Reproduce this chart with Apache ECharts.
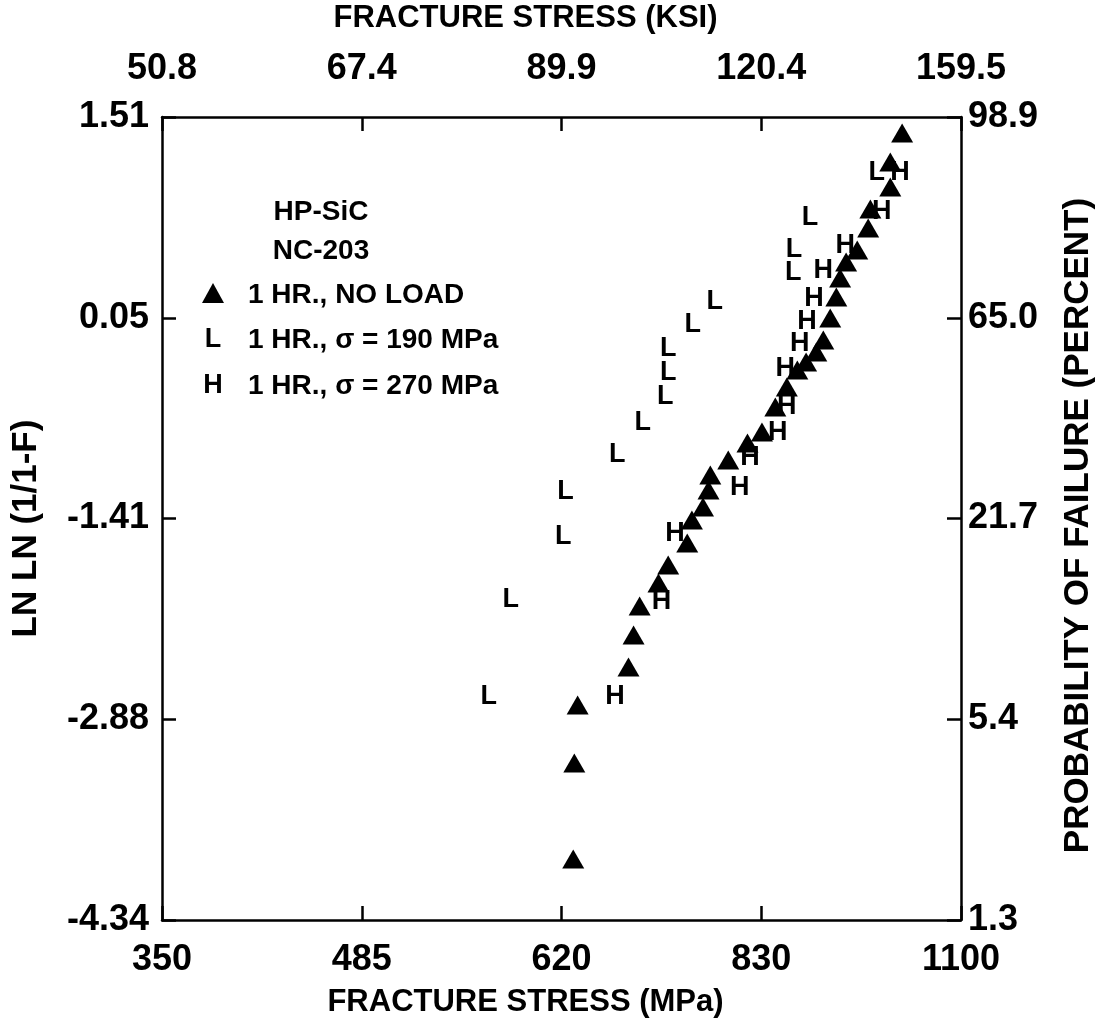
<!DOCTYPE html>
<html>
<head>
<meta charset="utf-8">
<script src="https://cdn.jsdelivr.net/npm/echarts@6/dist/echarts.min.js"></script>
<style>
  html, body { margin: 0; padding: 0; background: #fff; }
  #chart { width: 1100px; height: 1025px; }
</style>
</head>
<body>
<div id="chart"></div>
<script>
// tick labels (equally spaced on the axes)
const mpaLabels = ["350", "485", "620", "830", "1100"];
const ksiLabels = ["50.8", "67.4", "89.9", "120.4", "159.5"];
const lnlnLabels = ["-4.34", "-2.88", "-1.41", "0.05", "1.51"];
const probLabels = ["1.3", "5.4", "21.7", "65.0", "98.9"];

// 1 HR., no load  (fracture stress MPa, ln ln(1/1-F))
const noLoadStress = [1011, 994, 994, 966, 963, 948, 933, 925, 920, 912, 903, 894, 881, 870, 857, 843,
  827, 810, 788, 768, 766, 760, 748, 743, 723, 713, 694, 688, 683, 635, 632, 631];
const noLoadLnln = [1.393, 1.182, 1.000, 0.840, 0.701, 0.541, 0.454, 0.337, 0.199, 0.046, -0.115, -0.202,
  -0.275, -0.333, -0.457, -0.603, -0.785, -0.865, -0.989, -1.098, -1.207, -1.331, -1.426, -1.594,
  -1.754, -1.885, -2.053, -2.264, -2.497, -2.774, -3.196, -3.896];

// 1 HR., sigma = 190 MPa
const load190Stress = [975, 886, 866, 865, 773, 749, 723, 723, 720, 697, 672, 624, 622, 577, 559];
const load190Lnln = [1.102, 0.781, 0.548, 0.374, 0.162, -0.005, -0.180, -0.355, -0.530, -0.719,
  -0.952, -1.222, -1.550, -2.009, -2.715];

// 1 HR., sigma = 270 MPa
const load270Stress = [1008, 982, 932, 903, 891, 882, 873, 855, 857, 846, 813, 801, 730, 716, 670];
const load270Lnln = [1.102, 0.818, 0.570, 0.388, 0.184, 0.017, -0.144, -0.319, -0.603, -0.792,
  -0.974, -1.193, -1.521, -2.023, -2.715];

const FONT = "'Liberation Sans', Arial, sans-serif";

// weibull axes: log stress, ln ln(1/1-F); both drawn in 0..4 tick units
const toX = v => Math.log(v / 350) / Math.log(1100 / 350) * 4;
const toY = y => (y + 4.34) / 5.85 * 4;
const pts = (xs, ys) => xs.map((x, i) => [toX(x), toY(ys[i])]);

const chart = echarts.init(document.getElementById("chart"));

const axisCommon = {
  type: "value",
  min: 0,
  max: 4,
  interval: 1,
  splitLine: {show: false},
  axisLine: {show: true, onZero: false, lineStyle: {color: "#000", width: 2.5}},
  axisTick: {show: true, inside: true, length: 14, lineStyle: {color: "#000", width: 2.5}}
};

const labelStyle = {color: "#000", fontFamily: FONT, fontSize: 36, fontWeight: "bold"};
const nameStyle = {color: "#000", fontFamily: FONT, fontSize: 31, fontWeight: "bold"};
const sideNameStyle = {color: "#000", fontFamily: FONT, fontSize: 35, fontWeight: "bold"};

const letterSeries = (name, letter, data) => ({
  name: name,
  type: "scatter",
  data: data,
  symbolSize: 2,
  itemStyle: {color: "rgba(0,0,0,0)", opacity: 1},
  label: {
    show: true,
    position: "inside",
    formatter: letter,
    color: "#000",
    opacity: 1,
    fontFamily: FONT,
    fontSize: 27,
    fontWeight: "bold"
  },
  emphasis: {disabled: true},
  z: 3
});

const option = {
  backgroundColor: "#fff",
  animation: false,
  grid: {left: 162, right: 139, top: 117, bottom: 105, outerBoundsMode: "none"},
  xAxis: [
    Object.assign({}, axisCommon, {
      position: "bottom",
      name: "FRACTURE STRESS (MPa)",
      nameLocation: "middle",
      nameGap: 67,
      nameTextStyle: Object.assign({padding: [0, 72, 0, 0]}, nameStyle),
      axisLabel: Object.assign({margin: 22, formatter: v => mpaLabels[Math.round(v)]}, labelStyle)
    }),
    Object.assign({}, axisCommon, {
      position: "top",
      name: "FRACTURE STRESS (KSI)",
      nameLocation: "middle",
      nameGap: 83,
      nameTextStyle: Object.assign({padding: [0, 72, 0, 0]}, nameStyle),
      axisLabel: Object.assign({margin: 30, formatter: v => ksiLabels[Math.round(v)]}, labelStyle)
    })
  ],
  yAxis: [
    Object.assign({}, axisCommon, {
      position: "left",
      name: "LN LN (1/1-F)",
      nameLocation: "middle",
      nameGap: 118,
      nameTextStyle: Object.assign({padding: [0, 20, 0, 0]}, sideNameStyle),
      axisLabel: Object.assign({margin: 13, formatter: v => lnlnLabels[Math.round(v)]}, labelStyle)
    }),
    Object.assign({}, axisCommon, {
      position: "right",
      name: "PROBABILITY OF FAILURE (PERCENT)",
      nameLocation: "middle",
      nameGap: 100,
      nameTextStyle: Object.assign({padding: [0, 14, 0, 0]}, sideNameStyle),
      axisLabel: Object.assign({margin: 7, formatter: v => probLabels[Math.round(v)]}, labelStyle)
    })
  ],
  graphic: [
    {type: "text", x: 321, y: 212, style: {text: "HP-SiC", font: "bold 28px " + FONT, fill: "#000", align: "center", verticalAlign: "middle"}},
    {type: "text", x: 321, y: 251, style: {text: "NC-203", font: "bold 28px " + FONT, fill: "#000", align: "center", verticalAlign: "middle"}},
    {type: "polygon", shape: {points: [[213, 283], [202, 303], [224, 303]]}, style: {fill: "#000"}},
    {type: "text", x: 248, y: 295, style: {text: "1 HR., NO LOAD", font: "bold 28px " + FONT, fill: "#000", verticalAlign: "middle"}},
    {type: "text", x: 213, y: 340, style: {text: "L", font: "bold 27px " + FONT, fill: "#000", align: "center", verticalAlign: "middle"}},
    {type: "text", x: 248, y: 340, style: {text: "1 HR., σ = 190 MPa", font: "bold 28px " + FONT, fill: "#000", verticalAlign: "middle"}},
    {type: "text", x: 213, y: 386, style: {text: "H", font: "bold 27px " + FONT, fill: "#000", align: "center", verticalAlign: "middle"}},
    {type: "text", x: 248, y: 386, style: {text: "1 HR., σ = 270 MPa", font: "bold 28px " + FONT, fill: "#000", verticalAlign: "middle"}}
  ],
  series: [
    {
      name: "1 HR., NO LOAD",
      type: "scatter",
      data: pts(noLoadStress, noLoadLnln),
      symbol: "triangle",
      symbolSize: [22, 19],
      itemStyle: {color: "#000", opacity: 1},
      emphasis: {disabled: true},
      z: 2
    },
    letterSeries("1 HR., σ = 190 MPa", "L", pts(load190Stress, load190Lnln)),
    letterSeries("1 HR., σ = 270 MPa", "H", pts(load270Stress, load270Lnln))
  ]
};

chart.setOption(option);
</script>
</body>
</html>
